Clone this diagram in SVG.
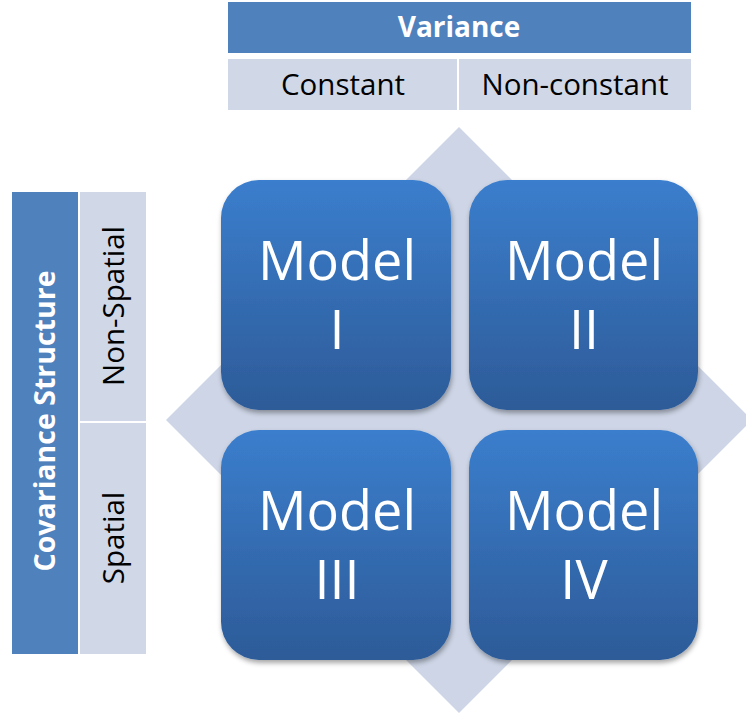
<svg xmlns="http://www.w3.org/2000/svg" width="746" height="717" viewBox="0 0 746 717">
<defs>
<linearGradient id="boxg" x1="0" y1="0" x2="0" y2="1">
<stop offset="0" stop-color="#3b7ecd"/>
<stop offset="1" stop-color="#2d5b98"/>
</linearGradient>
<filter id="sh" x="-10%" y="-10%" width="125%" height="125%">
<feDropShadow dx="1" dy="3" stdDeviation="2.5" flood-color="#000" flood-opacity="0.35"/>
</filter>
</defs>
<style>
.hdr{fill:#4f81bd}
.sub{fill:#d0d8e8}
.ht{font-family:"Open Sans","Liberation Sans",sans-serif;font-weight:bold;fill:#fff;text-anchor:middle}
.st{font-family:"Open Sans","Liberation Sans",sans-serif;fill:#000;text-anchor:middle}
.box{fill:url(#boxg);filter:url(#sh)}
.mt{font-family:"Open Sans","Liberation Sans",sans-serif;fill:#fff;text-anchor:middle;font-size:54px}
</style>
<rect width="746" height="717" fill="#fff"/>
<g id="variance">
<rect class="hdr" x="228" y="2" width="463" height="51"/>
<text class="ht" x="459" y="37" font-size="28">Variance</text>
</g>
<g id="constant">
<rect class="sub" x="228" y="59" width="229" height="51"/>
<text class="st" x="343" y="95" font-size="29.5">Constant</text>
</g>
<g id="nonconstant">
<rect class="sub" x="459" y="59" width="232" height="51"/>
<text class="st" x="575" y="95" font-size="29.5">Non-constant</text>
</g>
<g id="covariance">
<rect class="hdr" x="12" y="192" width="66" height="462"/>
<text class="ht" transform="translate(55,421) rotate(-90)" font-size="28.5">Covariance  Structure</text>
</g>
<g id="nonspatial">
<rect class="sub" x="80" y="192" width="66" height="229"/>
<text class="st" transform="translate(124,306) rotate(-90)" font-size="29.5">Non-Spatial</text>
</g>
<g id="spatial">
<rect class="sub" x="80" y="423" width="66" height="231"/>
<text class="st" transform="translate(124,538) rotate(-90)" font-size="29.5">Spatial</text>
</g>
<g id="diamond">
<polygon points="459,127 752,420 459,713 166,420" fill="#cdd5e6"/>
</g>
<g id="model1">
<rect class="box" x="221" y="180" width="230" height="230" rx="38"/>
<text class="mt" x="337" y="280">Model</text>
<text class="mt" x="337" y="349">I</text>
</g>
<g id="model2">
<rect class="box" x="469" y="180" width="229" height="230" rx="38"/>
<text class="mt" x="584" y="280">Model</text>
<text class="mt" x="584" y="349">II</text>
</g>
<g id="model3">
<rect class="box" x="221" y="430" width="230" height="230" rx="38"/>
<text class="mt" x="337" y="530">Model</text>
<text class="mt" x="337" y="599">III</text>
</g>
<g id="model4">
<rect class="box" x="469" y="430" width="229" height="230" rx="38"/>
<text class="mt" x="584" y="530">Model</text>
<text class="mt" x="584" y="599">IV</text>
</g>
<g id="connectors"/>
</svg>
